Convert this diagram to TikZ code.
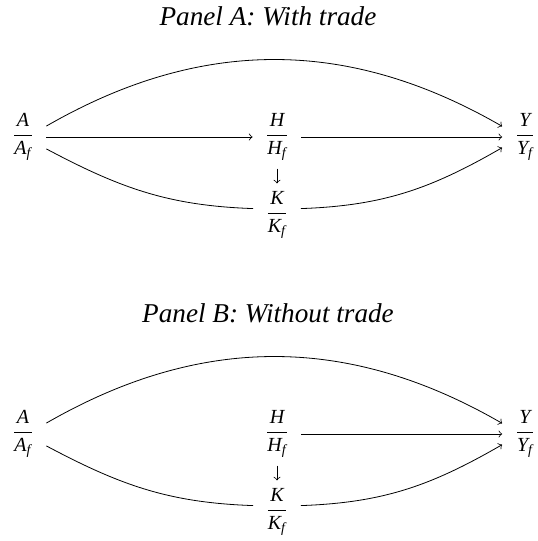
\documentclass[tikz,border=0pt]{standalone}
\usepackage{amsmath}
\usepackage{fontspec}
\setmainfont{Liberation Serif}
\usetikzlibrary{positioning}
\newcommand{\relratio}[1]{$\dfrac{\textit{#1}}{\textit{#1}_{\textit{f}}}$}

\begin{document}
\begin{tikzpicture}[x=.5pt,y=.5pt]
  \tikzset{ratio/.style={inner xsep=6pt,inner ysep=4pt},
    link/.style={line width=.4pt},
    flow/.style={link,->},
    paneltitle/.style={font=\fontsize{13.6}{16}\selectfont\itshape}}
  \useasboundingbox (0,0) rectangle (537,541);
  % Panel A
  \node[paneltitle] (titleA) at (268,525) {Panel A: With trade};
  \node[ratio] (aA) at (23,404) {\relratio{A}};
  \node[ratio] (hA) at (277,404) {\relratio{H}};
  \node[ratio] (yA) at (525,404) {\relratio{Y}};
  \node[ratio] (kA) at (277,326) {\relratio{K}};
  \draw[flow] (aA.25) to[bend left=30] (yA.155);
  \draw[flow] (aA) -- (hA);
  \draw[flow] (hA) -- (yA);
  \draw[flow] (hA) -- (kA);
  \draw[link] (aA.-27) to[out=-28,in=178] (kA.165);
  \draw[flow] (kA.15) to[out=2,in=-150] (yA.-155);
  % Panel B
  \node[paneltitle] (titleB) at (268,228) {Panel B: Without trade};
  \node[ratio] (aB) at (23,107) {\relratio{A}};
  \node[ratio] (hB) at (277,107) {\relratio{H}};
  \node[ratio] (yB) at (525,107) {\relratio{Y}};
  \node[ratio] (kB) at (277,29) {\relratio{K}};
  \draw[flow] (aB.25) to[bend left=30] (yB.155);
  \draw[flow] (hB) -- (yB);
  \draw[flow] (hB) -- (kB);
  \draw[link] (aB.-27) to[out=-28,in=178] (kB.165);
  \draw[flow] (kB.15) to[out=2,in=-150] (yB.-155);
\end{tikzpicture}
\end{document}
